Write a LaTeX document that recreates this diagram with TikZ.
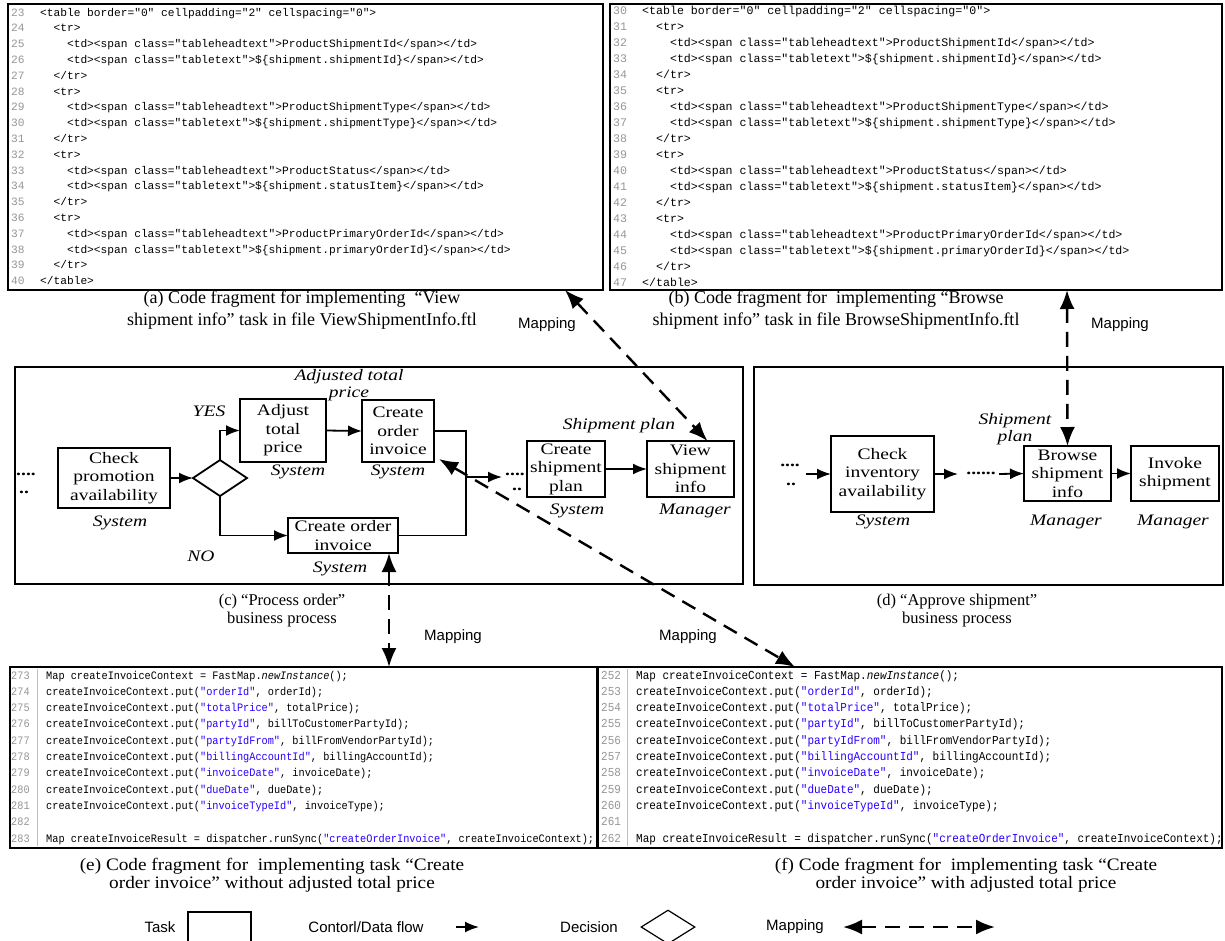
\documentclass[tikz,border=0pt]{standalone}
\usepackage{fontspec}
\setmainfont{Liberation Serif}
\newfontfamily\procf{Liberation Serif}[FakeStretch=1.22]
\newfontfamily\capf{Liberation Serif}[FakeStretch=1.1]
\newfontfamily\sansf{Liberation Sans}
\newfontfamily\monoA{Liberation Mono}
\newfontfamily\monoB{Liberation Mono}[FakeStretch=0.9]
\usetikzlibrary{arrows.meta,shapes.geometric,calc}
\definecolor{codeblue}{RGB}{42,0,255}
\definecolor{numgray}{RGB}{150,150,150}
\definecolor{sepgray}{RGB}{190,190,190}
\newcommand\blu[1]{\textcolor{codeblue}{#1}}
\newcommand\mkcode[8]{%
  \node[lnum] (#1n) at (#2,{#4+#6*#5}) {#7};
  \node[ctext] (#1) at (#3,{#4+#6*#5}) {#8};}
\newcommand\lineTL[3]{\mkcode{tl#1}{11}{40}{16}{15.8}{#1}{#2}{#3}}
\newcommand\lineTR[3]{\mkcode{tr#1}{613}{642}{14}{16}{#1}{#2}{#3}}
\newcommand\lineBL[3]{\mkcode{bl#1}{11}{46}{679}{16.3}{#1}{#2}{#3}}
\newcommand\lineBR[3]{\mkcode{br#1}{601}{636}{679}{16.3}{#1}{#2}{#3}}
\newcommand\htmlhead[1]{\phantom{xxxx}<td><span class="tableheadtext">#1</span></td>}
\newcommand\htmltext[1]{\phantom{xxxx}<td><span class="tabletext">\$\{shipment.#1\}</span></td>}
\newcommand\htmltr{\phantom{xx}<tr>}
\newcommand\htmletr{\phantom{xx}</tr>}
\newcommand\putln[2]{createInvoiceContext.put(\blu{"#1"}, #2);}
\newcommand\rectnode[7]{\node[#1, minimum width={#5-#3}, minimum height={#6-#4}] (#2) at ({(#3+#5)/2},{(#4+#6)/2}) {#7};}
\tikzset{
  codebox/.style={draw, line width=2.2pt, inner sep=0, outer sep=0},
  procframe/.style={draw, line width=2pt, inner sep=0, outer sep=0},
  task/.style={draw, line width=1.8pt, inner sep=0, outer sep=0, align=center, font=\procf\fontsize{16}{18.5}\selectfont},
  lab/.style={font=\procf\itshape\fontsize{16}{17.5}\selectfont, inner sep=0, align=center},
  captxt/.style={font=\fontsize{18}{21.5}\selectfont, align=center, inner sep=0},
  capsmall/.style={font=\fontsize{16.5}{18}\selectfont, align=center, inner sep=0},
  capbot/.style={font=\capf\fontsize{17.5}{18.5}\selectfont, align=center, inner sep=0},
  sanslab/.style={font=\sansf\fontsize{15}{18}\selectfont, inner sep=0},
  flow/.style={-{Latex[length=14pt,width=11pt]}, line width=1.8pt},
  joinline/.style={line width=1.8pt},
  maparrow/.style={{Latex[length=19pt,width=15pt]}-{Latex[length=19pt,width=15pt]}, line width=2.4pt, dash pattern=on 15pt off 9pt},
  dotlab/.style={font=\procf\bfseries\fontsize{16}{18}\selectfont, inner sep=0},
  lnum/.style={anchor=base west, inner sep=0, text=numgray},
  ctext/.style={anchor=base west, inner sep=0},
}
\begin{document}
\begin{tikzpicture}[x=1pt,y=-1pt]
\useasboundingbox[fill=white] (0,0) rectangle (1225,940);

% ---------- top code boxes ----------
\rectnode{codebox}{codeTL}{8}{4}{603}{290}{}
\rectnode{codebox}{codeTR}{610}{4}{1222}{290}{}
\begin{scope}[every node/.append style={font=\monoA\fontsize{11.2}{13}\selectfont}]
\lineTL{0}{23}{<table border="0" cellpadding="2" cellspacing="0">}
\lineTL{1}{24}{\htmltr}
\lineTL{2}{25}{\htmlhead{ProductShipmentId}}
\lineTL{3}{26}{\htmltext{shipmentId}}
\lineTL{4}{27}{\htmletr}
\lineTL{5}{28}{\htmltr}
\lineTL{6}{29}{\htmlhead{ProductShipmentType}}
\lineTL{7}{30}{\htmltext{shipmentType}}
\lineTL{8}{31}{\htmletr}
\lineTL{9}{32}{\htmltr}
\lineTL{10}{33}{\htmlhead{ProductStatus}}
\lineTL{11}{34}{\htmltext{statusItem}}
\lineTL{12}{35}{\htmletr}
\lineTL{13}{36}{\htmltr}
\lineTL{14}{37}{\htmlhead{ProductPrimaryOrderId}}
\lineTL{15}{38}{\htmltext{primaryOrderId}}
\lineTL{16}{39}{\htmletr}
\lineTL{17}{40}{</table>}
\end{scope}
\begin{scope}[every node/.append style={font=\monoA\fontsize{11.6}{13}\selectfont}]
\lineTR{0}{30}{<table border="0" cellpadding="2" cellspacing="0">}
\lineTR{1}{31}{\htmltr}
\lineTR{2}{32}{\htmlhead{ProductShipmentId}}
\lineTR{3}{33}{\htmltext{shipmentId}}
\lineTR{4}{34}{\htmletr}
\lineTR{5}{35}{\htmltr}
\lineTR{6}{36}{\htmlhead{ProductShipmentType}}
\lineTR{7}{37}{\htmltext{shipmentType}}
\lineTR{8}{38}{\htmletr}
\lineTR{9}{39}{\htmltr}
\lineTR{10}{40}{\htmlhead{ProductStatus}}
\lineTR{11}{41}{\htmltext{statusItem}}
\lineTR{12}{42}{\htmletr}
\lineTR{13}{43}{\htmltr}
\lineTR{14}{44}{\htmlhead{ProductPrimaryOrderId}}
\lineTR{15}{45}{\htmltext{primaryOrderId}}
\lineTR{16}{46}{\htmletr}
\lineTR{17}{47}{</table>}
\end{scope}

\node[captxt] (capA) at (302,310) {(a) Code fragment for implementing \ “View\\shipment info” task in file ViewShipmentInfo.ftl};
\node[captxt] (capB) at (836,310) {(b) Code fragment for \ implementing “Browse\\shipment info” task in file BrowseShipmentInfo.ftl};
\node[sanslab] (mapL1) at (547,325) {Mapping};
\node[sanslab] (mapL2) at (1120,325) {Mapping};

% ---------- process frames ----------
\rectnode{procframe}{frameC}{15}{367}{743}{584}{}
\rectnode{procframe}{frameD}{754}{367}{1223}{585}{}

% left process (c)
\node[dotlab] (dotsA1) at (26,474) {....};
\node[dotlab] (dotsA2) at (24,492) {..};
\rectnode{task}{chk}{58}{448}{170}{508}{Check\\promotion\\availability}
\node[lab] (sysChk) at (120,523) {System};
\node[draw, diamond, line width=1.8pt, minimum width=54, minimum height=36, inner sep=0, outer sep=0] (dec) at (220,478) {};
\rectnode{task}{adj}{240}{399}{326}{462}{Adjust\\total\\price}
\node[lab] (sysAdj) at (298,472) {System};
\rectnode{task}{coiA}{362}{400}{434}{462}{Create\\order\\invoice}
\node[lab] (sysCoiA) at (398,472) {System};
\node[lab] (adjLab) at (349,385) {Adjusted total\\price};
\node[lab] (yes) at (209,411) {YES};
\rectnode{task}{coiB}{288}{518}{398}{553}{Create order\\invoice}
\node[lab] (sysCoiB) at (340,569) {System};
\node[lab] (no) at (201,556) {NO};
\node[dotlab] (dotsB1) at (515,474) {....};
\node[dotlab] (dotsB2) at (517,489) {..};
\rectnode{task}{csp}{527}{441}{605}{497}{Create\\shipment\\plan}
\node[lab] (sysCsp) at (577,511) {System};
\rectnode{task}{vsi}{647}{441}{734}{497}{View\\shipment\\info}
\node[lab] (mgrVsi) at (695,511) {Manager};
\node[lab] (shipPlanA) at (619,426) {Shipment plan};

\draw[flow] (chk.east) -- (dec.west);
\draw[flow] (dec.north) |- (adj.west);
\draw[flow] (adj.east) -- (coiA.west);
\draw[flow] (dec.south) |- (coiB.west);
\coordinate (jn) at (466,477);
\coordinate (jarr) at (502,477);
\draw[joinline] (coiA.east) -| (jn) |- (coiB.east);
\draw[flow] (jn) -- (jarr);
\draw[flow] (csp.east) -- (vsi.west);

% right process (d)
\node[dotlab] (dotsC1) at (790,465) {....};
\node[dotlab] (dotsC2) at (791,484) {..};
\coordinate (ciaIn) at (806,474);
\rectnode{task}{cia}{831}{436}{934}{512}{Check\\inventory\\availability}
\node[lab] (sysCia) at (883,522) {System};
\coordinate (ciaOut) at (958,474);
\node[dotlab] (dotsC3) at (981,473) {......};
\coordinate (bsiIn) at (999,474);
\rectnode{task}{bsi}{1024}{446}{1111}{501}{Browse\\shipment\\info}
\node[lab] (mgrBsi) at (1066,522) {Manager};
\rectnode{task}{ivk}{1131}{446}{1219}{501}{Invoke\\shipment}
\node[lab] (mgrIvk) at (1173,522) {Manager};
\node[lab] (shipPlanB) at (1015,429) {Shipment\\plan};
\draw[flow] (ciaIn) -- (cia.west);
\draw[flow] (cia.east) -- (ciaOut);
\draw[flow] (bsiIn) -- (bsi.west);
\draw[flow] (bsi.east) -- (ivk.west);

\node[capsmall] (capC) at (282,611) {(c) “Process order”\\business process};
\node[capsmall] (capD) at (957,611) {(d) “Approve shipment”\\business process};
\node[sanslab] (mapL3) at (453,637) {Mapping};
\node[sanslab] (mapL4) at (688,637) {Mapping};

% ---------- bottom code boxes ----------
\rectnode{codebox}{codeBL}{10}{667}{597}{848}{}
\rectnode{codebox}{codeBR}{598}{667}{1222}{848}{}
\draw[sepgray, line width=0.8pt] ($(codeBL.north west)+(27,2)$) -- ($(codeBL.south west)+(27,-2)$);
\draw[sepgray, line width=0.8pt] ($(codeBR.north west)+(29,2)$) -- ($(codeBR.south west)+(29,-2)$);
\begin{scope}[every node/.append style={font=\monoB\fontsize{11.4}{13}\selectfont}]
\lineBL{0}{273}{Map createInvoiceContext = FastMap.\textit{newInstance}();}
\lineBL{1}{274}{\putln{orderId}{orderId}}
\lineBL{2}{275}{\putln{totalPrice}{totalPrice}}
\lineBL{3}{276}{\putln{partyId}{billToCustomerPartyId}}
\lineBL{4}{277}{\putln{partyIdFrom}{billFromVendorPartyId}}
\lineBL{5}{278}{\putln{billingAccountId}{billingAccountId}}
\lineBL{6}{279}{\putln{invoiceDate}{invoiceDate}}
\lineBL{7}{280}{\putln{dueDate}{dueDate}}
\lineBL{8}{281}{\putln{invoiceTypeId}{invoiceType}}
\lineBL{9}{282}{}
\lineBL{10}{283}{Map createInvoiceResult = dispatcher.runSync(\blu{"createOrderInvoice"}, createInvoiceContext);}
\end{scope}
\begin{scope}[every node/.append style={font=\monoB\fontsize{12.2}{13}\selectfont}]
\lineBR{0}{252}{Map createInvoiceContext = FastMap.\textit{newInstance}();}
\lineBR{1}{253}{\putln{orderId}{orderId}}
\lineBR{2}{254}{\putln{totalPrice}{totalPrice}}
\lineBR{3}{255}{\putln{partyId}{billToCustomerPartyId}}
\lineBR{4}{256}{\putln{partyIdFrom}{billFromVendorPartyId}}
\lineBR{5}{257}{\putln{billingAccountId}{billingAccountId}}
\lineBR{6}{258}{\putln{invoiceDate}{invoiceDate}}
\lineBR{7}{259}{\putln{dueDate}{dueDate}}
\lineBR{8}{260}{\putln{invoiceTypeId}{invoiceType}}
\lineBR{9}{261}{}
\lineBR{10}{262}{Map createInvoiceResult = dispatcher.runSync(\blu{"createOrderInvoice"}, createInvoiceContext);}
\end{scope}

\node[capbot] (capE) at (272,875) {(e) Code fragment for \ implementing task “Create\\order invoice” without adjusted total price};
\node[capbot] (capF) at (966,875) {(f) Code fragment for \ implementing task “Create\\order invoice” with adjusted total price};

% ---------- mapping arrows ----------
\coordinate (m1a) at ($(codeTL.south west)+(557,0)$);
\coordinate (m1b) at ($(vsi.north)+(17,0)$);
\draw[maparrow] (m1a) -- (m1b);
\coordinate (m2a) at ($(codeTR.south west)+(457,0)$);
\draw[maparrow] (m2a) -- (bsi.north);
\coordinate (m3a) at ($(coiB.south)+(46,0)$);
\coordinate (m3b) at ($(codeBL.north west)+(379,0)$);
\draw[maparrow] (m3a) -- (m3b);
\coordinate (m4a) at ($(coiA.south east)+(5,-3)$);
\coordinate (m4b) at ($(codeBR.north west)+(197,0)$);
\draw[maparrow] (m4a) -- (m4b);

% ---------- legend ----------
\node[sanslab] (lgTask) at (160,927) {Task};
\draw[line width=1.2pt] (188,945) -- (188,912) coordinate (lgBoxA) -- (251,912) coordinate (lgBoxB) -- (251,945);
\node[sanslab] (lgFlow) at (366,927) {Contorl/Data flow};
\coordinate (lgFa) at (456,927);
\coordinate (lgFb) at (479,927);
\draw[flow] (lgFa) -- (lgFb);
\node[sanslab] (lgDec) at (589,927) {Decision};
\node[draw, diamond, line width=1.2pt, minimum width=54, minimum height=34, inner sep=0] (lgDia) at (668,927) {};
\node[sanslab] (lgMap) at (795,927) {Mapping};
\coordinate (lgMa) at (843,927);
\coordinate (lgMb) at (995,927);
\draw[maparrow] (lgMa) -- (lgMb);
\end{tikzpicture}
\end{document}
